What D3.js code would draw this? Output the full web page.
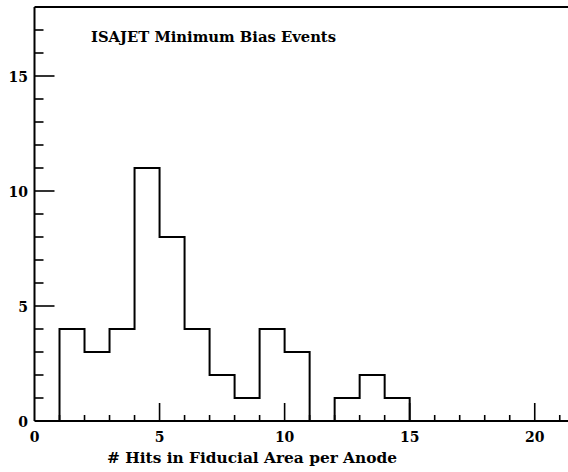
<!DOCTYPE html>
<html>
<head>
<meta charset="utf-8">
<script src="https://cdn.jsdelivr.net/npm/d3@7"></script>
<style>
  html, body { margin: 0; padding: 0; background: #fff; }
  svg { display: block; }
  text { font-family: "DejaVu Serif", "Liberation Serif", serif; font-weight: bold; fill: #000; }
</style>
</head>
<body>
<svg id="chart" width="568" height="472"></svg>
<script>
// ---- data ----
const binEdgesStart = [1, 2, 3, 4, 5, 6, 7, 8, 9, 10, 11, 12, 13, 14];
const binCounts     = [4, 3, 4, 11, 8, 4, 2, 1, 4, 3, 0, 1, 2, 1];
const xTickLabels = [0, 5, 10, 15, 20];
const yTickLabels = [0, 5, 10, 15];
const titleText = "ISAJET Minimum Bias Events";
const xAxisTitle = "# Hits in Fiducial Area per Anode";

// ---- layout ----
const svg = d3.select("#chart");
const x = d3.scaleLinear().domain([0, 21.33]).range([34.5, 568]);
const y = d3.scaleLinear().domain([0, 18]).range([421, 7]);

// frame lines
svg.append("line").attr("x1", x(0)).attr("x2", 568).attr("y1", y(0)).attr("y2", y(0))
  .attr("stroke", "#000").attr("stroke-width", 2);
svg.append("line").attr("x1", x(0)).attr("x2", x(0)).attr("y1", y(0)).attr("y2", y(18))
  .attr("stroke", "#000").attr("stroke-width", 2);
svg.append("line").attr("x1", x(0)).attr("x2", 568).attr("y1", y(18)).attr("y2", y(18))
  .attr("stroke", "#000").attr("stroke-width", 2);

// x ticks (minor every 1, major every 5), pointing up from bottom
const xMinor = d3.range(1, 22);
svg.append("g").selectAll("line").data(xMinor).join("line")
  .attr("x1", d => x(d)).attr("x2", d => x(d))
  .attr("y1", y(0)).attr("y2", d => y(0) - (d % 5 === 0 ? 18 : 6))
  .attr("stroke", "#000").attr("stroke-width", 1.6);

// y ticks (minor every 1, major every 5), pointing right from left axis
const yMinor = d3.range(1, 18);
svg.append("g").selectAll("line").data(yMinor).join("line")
  .attr("x1", x(0)).attr("x2", d => x(0) + (d % 5 === 0 ? 20 : 9))
  .attr("y1", d => y(d)).attr("y2", d => y(d))
  .attr("stroke", "#000").attr("stroke-width", 1.6);

// tick labels
svg.append("g").selectAll("text").data(xTickLabels).join("text")
  .attr("x", d => x(d)).attr("y", 442)
  .attr("text-anchor", "middle").attr("font-size", 14)
  .text(d => d);
svg.append("g").selectAll("text").data(yTickLabels).join("text")
  .attr("x", 28).attr("y", d => y(d) + 6)
  .attr("text-anchor", "end").attr("font-size", 14)
  .text(d => d);

// histogram outline
const pts = [];
binEdgesStart.forEach((s, i) => {
  pts.push([s, binCounts[i]]);
  pts.push([s + 1, binCounts[i]]);
});
const pathPts = [[binEdgesStart[0], 0], ...pts, [binEdgesStart[binEdgesStart.length - 1] + 1, 0]];
const line = d3.line().x(d => x(d[0])).y(d => y(d[1]));
svg.append("path").attr("d", line(pathPts))
  .attr("fill", "none").attr("stroke", "#000").attr("stroke-width", 2)
  .attr("stroke-linejoin", "miter");

// titles
svg.append("text").attr("x", 91).attr("y", 42).attr("font-size", 14)
  .attr("textLength", 245).attr("lengthAdjust", "spacingAndGlyphs")
  .text(titleText);
svg.append("text").attr("x", 107).attr("y", 463).attr("font-size", 14)
  .attr("textLength", 290).attr("lengthAdjust", "spacingAndGlyphs")
  .text(xAxisTitle);
</script>
</body>
</html>
